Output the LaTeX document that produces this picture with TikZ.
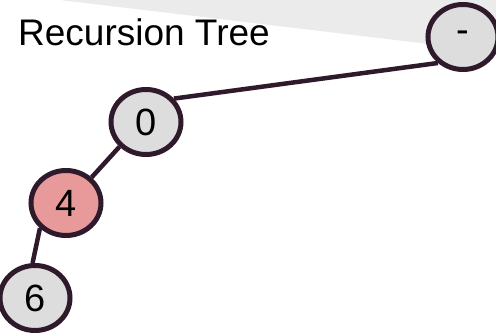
\documentclass[tikz,border=0pt]{standalone}
\usepackage{fontspec}
\setmainfont{Liberation Sans}
\usetikzlibrary{shapes.geometric}
\definecolor{edgecol}{HTML}{2E1A2B}
\definecolor{nodefill}{HTML}{DDDDDD}
\definecolor{hotfill}{HTML}{E89A9A}
\definecolor{bandgray}{HTML}{EBEBEB}
\begin{document}
\begin{tikzpicture}[x=1pt,y=-1pt,
  treenode/.style={ellipse, draw=edgecol, line width=5pt, fill=nodefill,
    minimum width=70pt, minimum height=65pt, inner sep=0pt,
    font=\fontsize{38}{38}\selectfont},
  hotnode/.style={treenode, fill=hotfill},
  link/.style={draw=edgecol, line width=4.5pt}]
  \useasboundingbox (0,0) rectangle (496,336);
  % shaded band behind the title
  \fill[bandgray] (60,0) -- (496,0) -- (496,52) -- cycle;
  \node[anchor=base west, inner sep=0pt, font=\fontsize{37}{40}\selectfont] (title) at (18,46) {Recursion Tree};
  % tree
  \node[treenode] (root) at (463,37) {-};
  \node[treenode] (n0) at (146,122) {0};
  \node[hotnode] (n4) at (66,203) {4};
  \node[treenode] (n6) at (35,298) {6};
  % edges leave from fixed border points
  \draw[link] (root.-134) -- (n0.40);
  \draw[link] (n0.-137) -- (n4.45);
  \draw[link] (n4.-136) -- (n6.94);
\end{tikzpicture}
\end{document}
